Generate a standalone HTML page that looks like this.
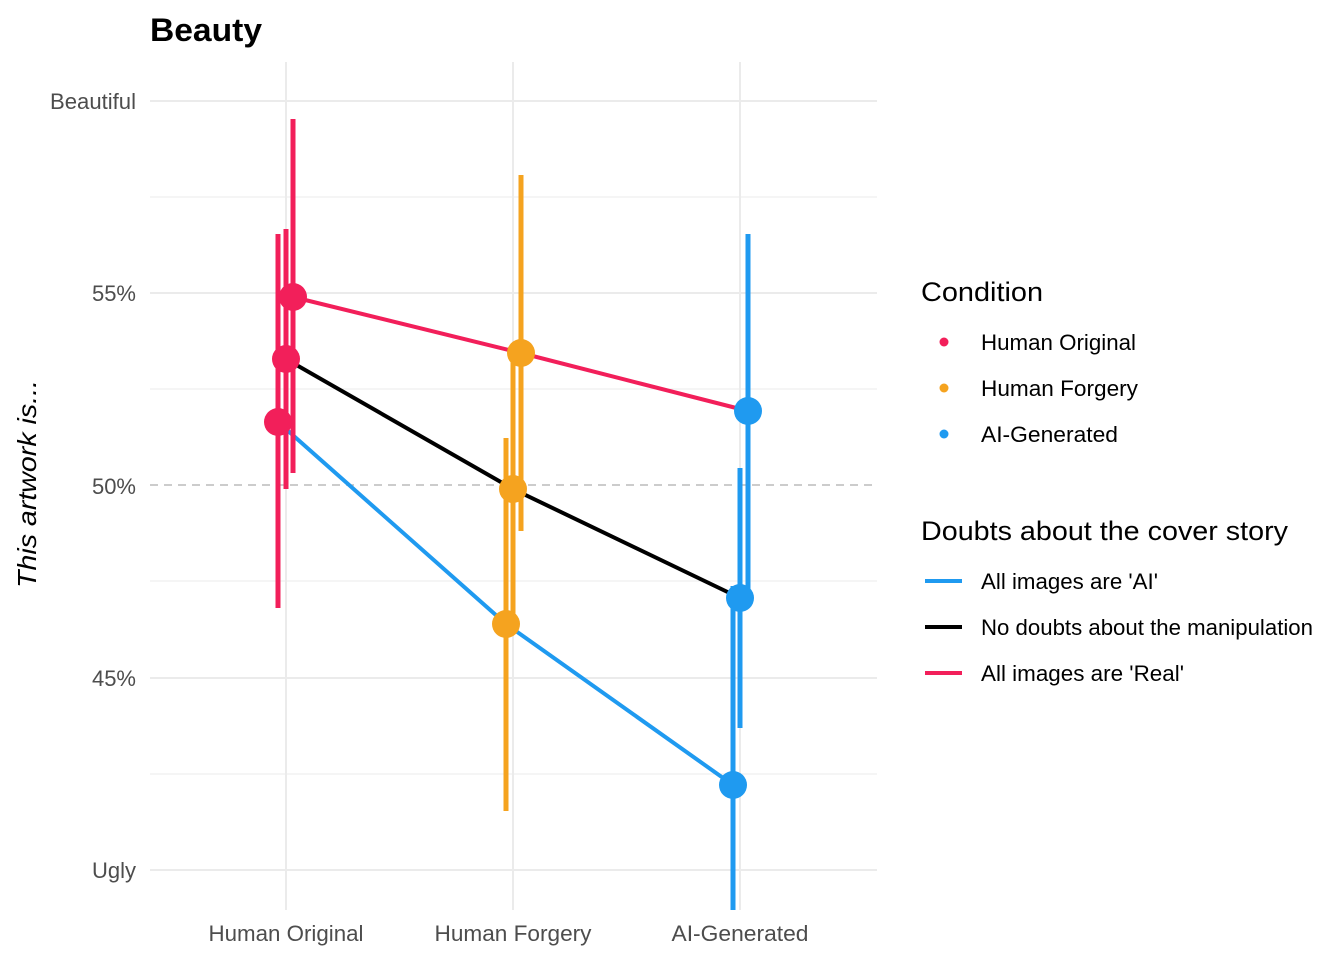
<!DOCTYPE html>
<html><head><meta charset="utf-8"><style>body{margin:0;background:#fff}</style></head><body>
<svg width="1344" height="960" xmlns="http://www.w3.org/2000/svg" font-family="Liberation Sans, sans-serif">
<rect width="1344" height="960" fill="#fff"/>
<g stroke="#ebebeb" stroke-width="1">
<line x1="150" x2="877" y1="197" y2="197"/><line x1="150" x2="877" y1="389" y2="389"/>
<line x1="150" x2="877" y1="581" y2="581"/><line x1="150" x2="877" y1="774" y2="774"/>
</g>
<g stroke="#ebebeb" stroke-width="2">
<line x1="150" x2="877" y1="101" y2="101"/><line x1="150" x2="877" y1="293" y2="293"/>
<line x1="150" x2="877" y1="678" y2="678"/><line x1="150" x2="877" y1="870" y2="870"/>
<line x1="286" x2="286" y1="62" y2="910"/><line x1="513" x2="513" y1="62" y2="910"/><line x1="740" x2="740" y1="62" y2="910"/>
</g>
<line x1="150" x2="877" y1="485" y2="485" stroke="#bbb" stroke-width="1.5" stroke-dasharray="8,6"/>
<g fill="#4d4d4d" font-size="22" text-anchor="end">
<text x="136" y="109" textLength="86" lengthAdjust="spacingAndGlyphs">Beautiful</text><text x="136" y="301">55%</text><text x="136" y="494">50%</text>
<text x="136" y="686">45%</text><text x="136" y="878">Ugly</text>
</g>
<g fill="#4d4d4d" font-size="22" text-anchor="middle">
<text x="286" y="941" textLength="155" lengthAdjust="spacingAndGlyphs">Human Original</text><text x="513" y="941" textLength="157" lengthAdjust="spacingAndGlyphs">Human Forgery</text><text x="740" y="941" textLength="137" lengthAdjust="spacingAndGlyphs">AI-Generated</text>
</g>
<text transform="translate(36,484) rotate(-90)" font-size="26" font-style="italic" text-anchor="middle" fill="#000" textLength="208" lengthAdjust="spacingAndGlyphs">This artwork is...</text>
<text x="150" y="41" font-size="32" font-weight="bold" textLength="112" lengthAdjust="spacingAndGlyphs">Beauty</text>
<polyline points="278,422 506,624 733,785" fill="none" stroke="#1F9AF0" stroke-width="4"/>
<polyline points="286,359 513,489 740,598" fill="none" stroke="#000" stroke-width="4"/>
<polyline points="293,297 521,353 748,411" fill="none" stroke="#F21F5A" stroke-width="4"/>
<g stroke-width="5">
<line x1="278" x2="278" y1="234" y2="608" stroke="#F21F5A"/>
<line x1="286" x2="286" y1="229" y2="489" stroke="#F21F5A"/>
<line x1="293" x2="293" y1="119" y2="473" stroke="#F21F5A"/>
<line x1="506" x2="506" y1="438" y2="811" stroke="#F5A31F"/>
<line x1="513" x2="513" y1="362" y2="616" stroke="#F5A31F"/>
<line x1="521" x2="521" y1="175" y2="531" stroke="#F5A31F"/>
<line x1="733" x2="733" y1="586" y2="910" stroke="#1F9AF0"/>
<line x1="740" x2="740" y1="468" y2="728" stroke="#1F9AF0"/>
<line x1="748" x2="748" y1="234" y2="592" stroke="#1F9AF0"/>
</g>
<g>
<circle cx="278" cy="422" r="14" fill="#F21F5A"/><circle cx="286" cy="359" r="14" fill="#F21F5A"/><circle cx="293" cy="297" r="14" fill="#F21F5A"/>
<circle cx="506" cy="624" r="14" fill="#F5A31F"/><circle cx="513" cy="489" r="14" fill="#F5A31F"/><circle cx="521" cy="353" r="14" fill="#F5A31F"/>
<circle cx="733" cy="785" r="14" fill="#1F9AF0"/><circle cx="740" cy="598" r="14" fill="#1F9AF0"/><circle cx="748" cy="411" r="14" fill="#1F9AF0"/>
</g>
<text x="921" y="301" font-size="27" textLength="122" lengthAdjust="spacingAndGlyphs">Condition</text>
<g font-size="22">
<circle cx="944" cy="342" r="4.5" fill="#F21F5A"/><text x="981" y="350" textLength="155" lengthAdjust="spacingAndGlyphs">Human Original</text>
<circle cx="944" cy="388" r="4.5" fill="#F5A31F"/><text x="981" y="396" textLength="157" lengthAdjust="spacingAndGlyphs">Human Forgery</text>
<circle cx="944" cy="434" r="4.5" fill="#1F9AF0"/><text x="981" y="442" textLength="137" lengthAdjust="spacingAndGlyphs">AI-Generated</text>
</g>
<text x="921" y="540" font-size="27" textLength="367" lengthAdjust="spacingAndGlyphs">Doubts about the cover story</text>
<g font-size="22">
<line x1="925" x2="962" y1="581" y2="581" stroke="#1F9AF0" stroke-width="4"/><text x="981" y="589" textLength="177" lengthAdjust="spacingAndGlyphs">All images are 'AI'</text>
<line x1="925" x2="962" y1="627" y2="627" stroke="#000" stroke-width="4"/><text x="981" y="635" textLength="332" lengthAdjust="spacingAndGlyphs">No doubts about the manipulation</text>
<line x1="925" x2="962" y1="673" y2="673" stroke="#F21F5A" stroke-width="4"/><text x="981" y="681" textLength="203" lengthAdjust="spacingAndGlyphs">All images are 'Real'</text>
</g>
</svg>
</body></html>
